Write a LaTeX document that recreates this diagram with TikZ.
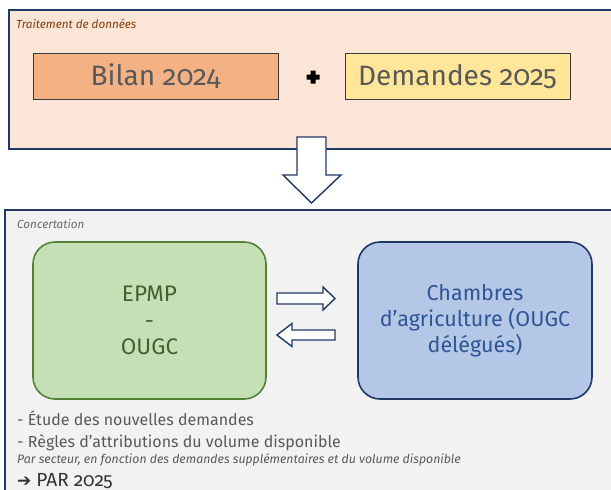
\documentclass[tikz,border=0pt]{standalone}
\usepackage{fontspec}
\setmainfont{Fira Sans}[Numbers=OldStyle]
\newfontfamily\djv{DejaVu Sans}
\definecolor{navy}{HTML}{203864}
\definecolor{peach}{HTML}{FBE5D6}
\definecolor{orangefill}{HTML}{F4B183}
\definecolor{yellowfill}{HTML}{FFE699}
\definecolor{txtgray}{HTML}{595959}
\definecolor{brown}{HTML}{843C0C}
\definecolor{lightgray}{HTML}{F2F2F2}
\definecolor{greenfill}{HTML}{C5E0B4}
\definecolor{greenedge}{HTML}{548235}
\definecolor{greentext}{HTML}{416230}
\definecolor{bluefill}{HTML}{B4C7E7}
\definecolor{bluetext}{HTML}{2F5597}
\definecolor{edgegray}{HTML}{3A3A3A}
\begin{document}
\begin{tikzpicture}[x=1pt,y=-1pt,
  outerbox/.style={draw=navy, line width=1.3pt, inner sep=0pt},
  databox/.style={draw=edgegray, line width=0.9pt, minimum height=46pt, inner sep=0pt,
    text=txtgray, font=\fontsize{28}{32}\selectfont},
  roundbox/.style={rounded corners=22pt, line width=1.6pt, minimum width=233pt,
    minimum height=157pt, align=center, inner sep=0pt,
    font=\fontsize{22.5}{26.5}\selectfont},
  fatarrow/.style={draw=navy, fill=white, line width=1.4pt, line join=miter},
  tag/.style={anchor=base west, inner sep=0pt, font=\fontsize{11.7}{13}\selectfont\itshape},
  bullet/.style={anchor=base west, inner sep=0pt, text=txtgray, font=\fontsize{16}{18}\selectfont}
]
\useasboundingbox (0,0) rectangle (611,490);
\clip (0,0) rectangle (611,490);

% top panel
\node[outerbox, fill=peach, minimum width=631pt, minimum height=139pt] (top) at (324.5,79.5) {};
\node[tag, text=brown] (toplabel) at (16,28) {Traitement de données};
\node[databox, fill=orangefill, minimum width=245pt] (bilan) at (155.5,76.5) {Bilan 2024};
\node[databox, fill=yellowfill, minimum width=225pt] (demandes) at (457.5,76.5) {Demandes 2025};
\node[inner sep=0pt, minimum size=12pt] (plus) at (313,77) {};
\fill[black] ([shift={(-2.5,-6.5)}]plus.center) -- ++(5,0) -- ++(0,4) -- ++(4,0) -- ++(0,5) -- ++(-4,0)
  -- ++(0,4) -- ++(-5,0) -- ++(0,-4) -- ++(-4,0) -- ++(0,-5) -- ++(4,0) -- cycle;

% bottom panel
\node[outerbox, fill=lightgray, minimum width=636pt, minimum height=310pt] (bottom) at (323,365) {};
\node[tag, text=txtgray!90] (botlabel) at (17,228) {Concertation};

% down arrow
\draw[fatarrow] (297,137) -- (326,137) -- (326,175) -- (341,175) -- (311.5,203) -- (283,175) -- (297,175) -- cycle;

\node[roundbox, draw=greenedge, fill=greenfill, text=greentext] (epmp) at (149.5,320.5)
  {EPMP\\-\\OUGC};
\node[roundbox, draw=navy, fill=bluefill, text=bluetext, minimum width=234pt,
  font=\fontsize{21.5}{26}\selectfont] (chambres) at (475,320.5)
  {Chambres\\d’agriculture (OUGC\\délégués)};

% exchange arrows
\draw[fatarrow] (277,293) -- (323,293) -- (323,287) -- (335,298.5) -- (323,310) -- (323,304) -- (277,304) -- cycle;
\draw[fatarrow] (335,330) -- (292,330) -- (292,323.5) -- (277,335) -- (292,346.5) -- (292,340) -- (335,340) -- cycle;

% text lines
\node[bullet] (l1) at (17,425) {- Étude des nouvelles demandes};
\node[bullet] (l2) at (17,447) {- Règles d’attributions du volume disponible};
\node[tag, text=txtgray, font=\fontsize{12.3}{13}\selectfont\itshape] (l3) at (17,463)
  {Par secteur, en fonction des demandes supplémentaires et du volume disponible};
\node[bullet, text=black!80, font=\fontsize{19}{21}\selectfont] (l4) at (17,486)
  {{\djv\bfseries\fontsize{17}{18}\selectfont ➔} PAR 2025};
\end{tikzpicture}
\end{document}
